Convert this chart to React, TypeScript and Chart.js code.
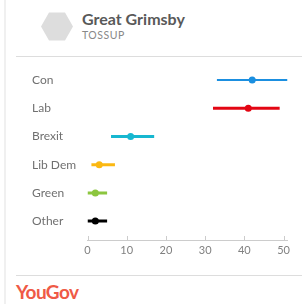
import React, { useEffect, useRef } from "react";
import { Chart, registerables } from "chart.js";

Chart.register(...registerables);

const categories = ["Con", "Lab", "Brexit", "Lib Dem", "Green", "Other"];
const lowValues = [33, 32, 6, 1, 0, 0];
const midValues = [42, 41, 11, 3, 2, 2];
const highValues = [51, 49, 17, 7, 5, 5];
const colors = ["#1b8fe0", "#e30613", "#17b7d0", "#fbb812", "#8cc63f", "#000000"];
const lineWidths = [2, 3, 3, 3, 3, 3];
const xTicks = [0, 10, 20, 30, 40, 50];

const FONT = "Lato, 'Open Sans', sans-serif";

const upTicks = {
  id: "upTicks",
  afterDraw(chart: any) {
    const x = chart.scales.x;
    const ctx = chart.ctx;
    ctx.save();
    ctx.strokeStyle = "#cccccc";
    ctx.lineWidth = 1;
    xTicks.forEach((v) => {
      const px = Math.round(x.getPixelForValue(v)) + 0.5;
      ctx.beginPath();
      ctx.moveTo(px, x.top);
      ctx.lineTo(px, x.top - 4);
      ctx.stroke();
    });
    ctx.restore();
  },
};

export default function App() {
  const ref = useRef<HTMLCanvasElement>(null);
  useEffect(() => {
    if (!ref.current) return;
    const rangeSets = categories.map((c, i) => ({
      type: "line" as const,
      label: c,
      data: [
        { x: lowValues[i], y: i },
        { x: highValues[i], y: i },
      ],
      borderColor: colors[i],
      borderWidth: lineWidths[i],
      pointRadius: 0,
      showLine: true,
    }));
    const chart = new Chart(ref.current, {
      type: "scatter",
      data: {
        datasets: [
          ...rangeSets,
          {
            type: "scatter" as const,
            label: "mid",
            data: categories.map((c, i) => ({ x: midValues[i], y: i })),
            pointBackgroundColor: colors,
            pointBorderColor: colors,
            pointRadius: 3.5,
            pointBorderWidth: 0,
          },
        ] as any,
      },
      options: {
        animation: false,
        responsive: false,
        maintainAspectRatio: false,
        layout: { padding: { top: 15.9, left: 12, right: 14.5, bottom: 0 } },
        plugins: { legend: { display: false }, tooltip: { enabled: false } },
        scales: {
          x: {
            type: "linear",
            min: 0,
            max: 51,
            afterBuildTicks: (s: any) => {
              s.ticks = xTicks.map((v) => ({ value: v }));
            },
            afterFit: (s: any) => {
              s.height = 30;
            },
            grid: { display: false, drawTicks: false },
            border: { display: true, color: "#cccccc", width: 1 },
            ticks: {
              padding: 4,
              color: "#808080",
              font: { family: FONT, size: 11 },
            },
          },
          y: {
            type: "linear",
            reverse: true,
            min: -0.5,
            max: 5.67,
            afterBuildTicks: (s: any) => {
              s.ticks = categories.map((_, i) => ({ value: i }));
            },
            afterFit: (s: any) => {
              s.width = 55.5;
            },
            grid: { display: false, drawTicks: false },
            border: { display: false },
            ticks: {
              crossAlign: "far",
              color: "#707070",
              font: { family: FONT, size: 12 },
              callback: (v: any) => categories[v as number] ?? "",
            },
          },
        },
      },
      plugins: [upTicks],
    });
    return () => chart.destroy();
  }, []);

  return (
    <div
      style={{
        position: "absolute",
        left: 0,
        top: 0,
        width: 302,
        height: 304,
        background: "#ffffff",
        overflow: "hidden",
        fontFamily: FONT,
      }}
    >
      <div style={{ position: "absolute", left: 4, top: 0, width: 2, height: 304, background: "#f0f0f0" }} />
      <svg style={{ position: "absolute", left: 0, top: 0 }} width={302} height={60}>
        <polygon points="41,26.5 49,12.5 65,12.5 73,26.5 65,40.5 49,40.5" fill="#dddddd" />
      </svg>
      <div
        style={{
          position: "absolute",
          left: 82,
          top: 9,
          fontSize: 16,
          fontWeight: 700,
          color: "#595959",
          lineHeight: "20px",
          whiteSpace: "nowrap",
        }}
      >
        Great Grimsby
      </div>
      <div
        style={{
          position: "absolute",
          left: 82,
          top: 29,
          fontSize: 10.5,
          color: "#888888",
          lineHeight: "12px",
          letterSpacing: 0.5,
        }}
      >
        TOSSUP
      </div>
      <div style={{ position: "absolute", left: 16, top: 56, width: 286, height: 1, background: "#dddddd" }} />
      <canvas
        ref={ref}
        width={282}
        height={220}
        style={{ position: "absolute", left: 20, top: 50, width: 282, height: 220 }}
      />
      <div style={{ position: "absolute", left: 16, top: 275, width: 286, height: 1, background: "#dddddd" }} />
      <div
        style={{
          position: "absolute",
          left: 16,
          top: 281,
          fontSize: 19,
          fontWeight: 700,
          color: "#ef5a46",
          letterSpacing: -0.6,
          lineHeight: "22px",
        }}
      >
        YouGov
      </div>
    </div>
  );
}
